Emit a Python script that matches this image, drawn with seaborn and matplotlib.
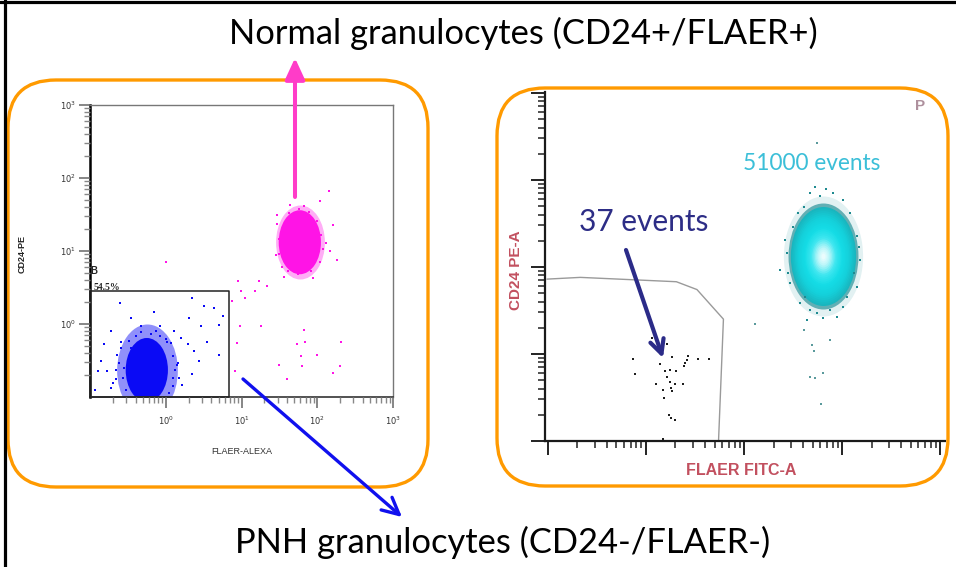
import numpy as np
import pandas as pd
import matplotlib
matplotlib.use("Agg")
import matplotlib.pyplot as plt
import seaborn as sns
from matplotlib.path import Path
from matplotlib.patches import FancyBboxPatch
from matplotlib.colors import LinearSegmentedColormap
from matplotlib.ticker import FixedLocator, FixedFormatter, NullFormatter

# =========================
# data (log10 units)
# =========================
# left plot: PNH cluster (CD24-/FLAER-), scattered events
pnh_logx = [-0.61, -0.46, -0.16, 0.35, 0.50, 0.64, 0.75, 0.70, 0.46, 0.31, -0.72, -0.81,
            -0.86, -0.90, -0.77, -0.94, -0.72, 0.11, 0.20, 0.29, 0.37, 0.44, 0.35, 0.22,
            0.15, -0.07, -0.33, -0.59, -0.64, -0.66, 0.55, 0.02, -0.46, -0.55, 0.09, 0.70,
            -0.59, -0.62, -0.57, -0.53, -0.49, -0.39, -0.20, -0.07, 0.07, 0.09, 0.12, 0.09,
            0.04, -0.66, -0.70, 0.16, -0.33, -0.13, 0.00, 0.17]
pnh_logy = [0.29, 0.08, 0.17, 0.36, 0.24, 0.22, 0.11, -0.01, -0.03, 0.08, -0.10, -0.28,
            -0.51, -0.65, -0.65, -0.90, -0.88, -0.10, -0.19, -0.28, -0.37, -0.51, -0.69, -0.83,
            -0.56, -0.03, -0.03, -0.24, -0.42, -0.76, -0.24, -0.24, -0.33, -0.60, -0.74, -0.42,
            -0.33, -0.53, -0.74, -0.90, -0.23, -0.16, -0.14, -0.16, -0.26, -0.44, -0.63, -0.85,
            -0.95, -0.63, -0.81, -0.53, -0.11, -0.10, -0.21, -0.74]

# left plot: normal cluster (CD24+/FLAER+), scattered events
norm_logx = [0.00, 0.95, 0.87, 0.99, 1.05, 1.18, 1.23, 1.34, 0.98, 1.26, 0.94, 0.92,
             1.49, 1.60, 1.73, 1.82, 1.78, 1.84, 1.80, 2.00, 2.21, 2.30, 2.31, 2.15,
             2.04, 2.21, 2.26, 1.95, 1.56, 1.47, 1.64, 2.17, 1.45,
             1.47, 1.50, 1.49, 1.54, 1.63, 1.76, 1.89, 2.00, 2.05, 2.07, 2.03, 1.92,
             1.74, 1.61, 2.11, 1.83]
norm_logy = [0.85, 0.59, 0.32, 0.45, 0.36, 0.45, 0.59, 0.52, -0.03, -0.03, -0.26, -0.65,
             -0.56, -0.76, -0.28, -0.08, -0.44, -0.24, -0.58, -0.42, -0.67, -0.57, -0.24, 1.82,
             1.68, 1.36, 0.88, 0.63, 0.65, 1.50, 1.63, 1.00, 0.95,
             1.37, 1.16, 0.96, 0.78, 1.52, 1.58, 1.53, 1.41, 1.22, 1.03, 0.85, 0.73,
             0.68, 0.73, 1.11, 1.62]

# dense cores of the two left clusters
core_names = ["PNH", "Normal"]
core_logx = [-0.25, 1.77]
core_logy = [-0.63, 1.12]
core_colors = ["#0A0AF5", "#FF14E6"]

# gate "B" (linear units)
gate_b_x = [0.1, 6.8]
gate_b_y = [0.1, 2.8]
gate_b_label = "54.5%"

left_ticks = [1, 10, 100, 1000]
left_tick_labels = [r"$10^{0}$", r"$10^{1}$", r"$10^{2}$", r"$10^{3}$"]

# right plot: residual PNH events (37 events)
pnh2_logx = [1.87, 1.89, 2.10, 2.14, 2.19, 2.21, 2.24, 2.26, 2.27, 2.30, 2.31, 2.38, 2.39, 2.42,
             2.43, 2.53, 2.64, 2.18, 2.23, 2.26, 2.30, 2.17, 2.06, 2.21, 2.24, 2.40, 2.27, 2.17]
pnh2_logy = [1.94, 1.77, 1.66, 1.89, 1.80, 1.74, 1.68, 1.61, 1.96, 1.66, 1.80, 1.66, 1.86, 1.93,
             1.98, 1.94, 1.94, 1.49, 1.30, 1.26, 1.24, 1.59, 2.18, 2.12, 1.82, 1.90, 1.57, 1.02]

# right plot: normal cluster halo (51000 events)
norm2_logx = [3.67, 3.84, 4.01, 3.61, 4.08, 3.50, 4.15, 3.44, 4.18, 3.37, 3.47, 4.15, 3.57, 4.01,
              3.74, 3.88, 3.64, 3.81, 3.78, 3.55, 4.12, 3.42, 4.05, 3.62, 3.95, 3.72, 3.91, 4.17,
              3.45, 3.67]
norm2_logy = [3.85, 3.89, 3.77, 3.69, 3.62, 3.46, 3.35, 3.16, 3.08, 2.97, 2.81, 2.77, 2.58, 2.54,
              2.47, 2.51, 2.39, 2.41, 3.81, 3.62, 2.93, 3.31, 2.66, 2.66, 2.43, 3.92, 3.85, 3.23,
              2.93, 2.51]
stray2_logx = [3.69, 3.71, 3.67, 3.72, 3.81, 3.79, 3.61, 3.88, 3.74, 3.11]
stray2_logy = [2.10, 2.03, 1.74, 1.72, 1.78, 1.43, 2.28, 2.16, 4.42, 2.35]
core2_logx = [3.81]
core2_logy = [3.12]

# right plot gate polygon
gate_p_logx = [0.99, 1.33, 2.31, 2.52, 2.79, 2.74]
gate_p_logy = [2.86, 2.88, 2.83, 2.74, 2.40, 1.0]

right_major = [10, 100, 1000, 10000, 100000]

# =========================
# figure
# =========================
sns.set_style("white")
plt.rcParams['font.family'] = ['Lato', 'DejaVu Sans']

W, H = 956, 567
fig = plt.figure(figsize=(W / 100, H / 100), dpi=100)
fig.patch.set_facecolor("white")


def ax_rect(l, t, r, b):
    return [l / W, 1 - b / H, (r - l) / W, (b - t) / H]


# ellipse shaped marker for dense cores
circ = Path.unit_circle()
ell = Path(circ.vertices * np.array([0.66, 1.0]), circ.codes)


def px2s(h):
    # marker height in pixels -> scatter size
    return (h * 0.72) ** 2


def minor_ticks(e0, e1):
    # 2..9 x 10^e for each decade
    return [k * 10.0 ** e for e in range(e0, e1) for k in range(2, 10)]


LEFT_RECT = ax_rect(90, 105, 393, 397)

# ---------- left plot ----------
ax1 = fig.add_axes(LEFT_RECT)
ax1.set_xscale("log")
ax1.set_yscale("log")

df_pnh = pd.DataFrame({"x": 10 ** np.array(pnh_logx), "y": 10 ** np.array(pnh_logy)})
df_norm = pd.DataFrame({"x": 10 ** np.array(norm_logx), "y": 10 ** np.array(norm_logy)})
df_core = pd.DataFrame({"x": 10 ** np.array(core_logx), "y": 10 ** np.array(core_logy),
                        "name": core_names})

# core layers: fuzzy halo then solid
sns.scatterplot(data=df_core.iloc[[0]], x="x", y="y", color=core_colors[0], marker=ell,
                s=px2s(92), alpha=0.45, linewidth=0, ax=ax1)
sns.scatterplot(data=df_core.iloc[[1]], x="x", y="y", color=core_colors[1], marker=ell,
                s=px2s(74), alpha=0.35, linewidth=0, ax=ax1)
sns.scatterplot(data=df_core, x="x", y="y", hue="name", palette=core_colors, marker=ell,
                s=px2s(64), linewidth=0, legend=False, ax=ax1)
sns.scatterplot(data=df_pnh, x="x", y="y", color=core_colors[0], marker="s", s=4,
                linewidth=0, ax=ax1)
sns.scatterplot(data=df_norm, x="x", y="y", color=core_colors[1], marker="s", s=4,
                linewidth=0, ax=ax1)

gx = [gate_b_x[0], gate_b_x[1], gate_b_x[1], gate_b_x[0], gate_b_x[0]]
gy = [gate_b_y[0], gate_b_y[0], gate_b_y[1], gate_b_y[1], gate_b_y[0]]
ax1.plot(gx, gy, color="#222222", lw=1.1, clip_on=False, zorder=5)
ax1.text(0.1, 5.4, "B", fontsize=7, fontweight="bold", family="Liberation Sans",
         ha="left", va="center")
ax1.text(0.112, 3.15, gate_b_label, fontsize=7, fontweight="bold", family="Liberation Serif",
         ha="left", va="center")

ax1.set_xlim(0.1, 1000)
ax1.set_ylim(0.1, 1000)
ax1.tick_params(which="both", bottom=False, left=False, labelbottom=False, labelleft=False)
for side in ("top", "right"):
    ax1.spines[side].set_color("#777777")
    ax1.spines[side].set_linewidth(1.0)
ax1.spines["left"].set_color("black")
ax1.spines["left"].set_linewidth(1.8)
ax1.spines["bottom"].set_color("#333333")
ax1.spines["bottom"].set_linewidth(1.2)
ax1.set_xlabel("FLAER-ALEXA", fontsize=6.5, family="Liberation Sans", color="#333333")
ax1.set_ylabel("CD24-PE", fontsize=6.5, family="Liberation Sans", fontweight="bold",
               color="#222222")
ax1.xaxis.set_label_coords(0.5, -0.171)
ax1.yaxis.set_label_coords(-0.208, 0.49)

# separate, empty axes that carries the tick marks and tick labels of the left plot
axt = fig.add_axes(LEFT_RECT, zorder=2)
axt.set_xscale("log")
axt.set_yscale("log")
axt.set_xlim(0.1, 1000)
axt.set_ylim(0.1, 1000)
axt.patch.set_alpha(0)
for sp in axt.spines.values():
    sp.set_visible(False)
for axis in (axt.xaxis, axt.yaxis):
    axis.set_major_locator(FixedLocator(left_ticks))
    axis.set_major_formatter(FixedFormatter(left_tick_labels))
    axis.set_minor_locator(FixedLocator(minor_ticks(-1, 3)))
    axis.set_minor_formatter(NullFormatter())
axt.xaxis.set_ticks_position("bottom")
axt.yaxis.set_ticks_position("left")
axt.tick_params(which="both", direction="out")
axt.tick_params(which="major", length=8, width=1.1, color="#666666",
                labelsize=6, labelcolor="#333333", pad=2)
axt.tick_params(which="minor", length=4.5, width=1.0, color="#888888")
axt.tick_params(axis="x", which="major", pad=5)

# ---------- right plot ----------
ax2 = fig.add_axes(ax_rect(545, 92, 945, 441))
ax2.set_xscale("log")
ax2.set_yscale("log")

df_p2 = pd.DataFrame({"x": 10 ** np.array(pnh2_logx), "y": 10 ** np.array(pnh2_logy)})
df_n2 = pd.DataFrame({"x": 10 ** np.array(norm2_logx), "y": 10 ** np.array(norm2_logy)})
df_s2 = pd.DataFrame({"x": 10 ** np.array(stray2_logx), "y": 10 ** np.array(stray2_logy)})
df_c2 = pd.DataFrame({"x": 10 ** np.array(core2_logx), "y": 10 ** np.array(core2_logy)})

ax2.plot(10 ** np.array(gate_p_logx), 10 ** np.array(gate_p_logy), color="#9a9a9a", lw=1.0)

# core of the normal cluster: dark speckled rim, then a smooth cyan -> white fill
sns.scatterplot(data=df_c2, x="x", y="y", color="#8cc9cc", marker=ell, s=px2s(120),
                alpha=0.25, linewidth=0, ax=ax2)
sns.scatterplot(data=df_c2, x="x", y="y", color="#2a939a", marker=ell, s=px2s(106),
                alpha=0.7, linewidth=0, ax=ax2)
core_cmap = LinearSegmentedColormap.from_list(
    "cyan_core", ["#ffffff", "#b8f6f9", "#3ce6ef", "#14dce6", "#14d0da", "#19b6bf"])
for h in np.linspace(99, 6, 24):
    sns.scatterplot(data=df_c2, x="x", y="y", color=core_cmap(h / 99), marker=ell,
                    s=px2s(h), linewidth=0, ax=ax2)
sns.scatterplot(data=df_n2, x="x", y="y", color="#1e8a90", marker="s", s=3, linewidth=0,
                ax=ax2)
sns.scatterplot(data=df_s2, x="x", y="y", color="#5a9a9c", marker="s", s=3, linewidth=0,
                ax=ax2)
sns.scatterplot(data=df_p2, x="x", y="y", color="#1e1e1e", marker="s", s=4.5, linewidth=0,
                ax=ax2)

ax2.set_xlim(10 ** 0.97, 10 ** 5.05)
ax2.set_ylim(10 ** 1.0, 10 ** 5.01)
sns.despine(ax=ax2)
for axis in (ax2.xaxis, ax2.yaxis):
    axis.set_major_locator(FixedLocator(right_major))
    axis.set_major_formatter(NullFormatter())
    axis.set_minor_locator(FixedLocator(minor_ticks(1, 5)))
    axis.set_minor_formatter(NullFormatter())
ax2.xaxis.set_ticks_position("bottom")
ax2.yaxis.set_ticks_position("left")
ax2.tick_params(which="both", direction="out")
ax2.tick_params(which="major", length=10, width=1.4, color="#222222")
ax2.tick_params(which="minor", length=5, width=1.2, color="#333333")
ax2.spines["left"].set_linewidth(1.6)
ax2.spines["bottom"].set_linewidth(1.6)
ax2.spines["left"].set_color("#1a1a1a")
ax2.spines["bottom"].set_color("#1a1a1a")
ax2.set_xlabel("FLAER FITC-A", fontsize=11.5, fontweight="bold", family="Liberation Sans",
               color="#C2505F")
ax2.set_ylabel("CD24 PE-A", fontsize=11, fontweight="bold", family="Liberation Sans",
               color="#C2505F")
ax2.xaxis.set_label_coords(0.49, -0.063)
ax2.yaxis.set_label_coords(-0.055, 0.49)

# ---------- overlay: frame, boxes, arrows, titles ----------
ov = fig.add_axes([0, 0, 1, 1], zorder=10)
ov.set_xlim(0, W)
ov.set_ylim(H, 0)
ov.axis("off")
ov.patch.set_alpha(0)

ov.plot([5, 5], [0, H], color="black", lw=2.3)
ov.plot([0, W], [1.5, 1.5], color="black", lw=2.3)

ov.add_patch(FancyBboxPatch((8, 80), 420, 407, boxstyle="round,pad=0,rounding_size=48",
                            fc="none", ec="#FF9A00", lw=2.4))
ov.add_patch(FancyBboxPatch((497, 88), 451, 398, boxstyle="round,pad=0,rounding_size=48",
                            fc="none", ec="#FF9A00", lw=2.4))

ov.text(915, 106, "P", fontsize=11, fontweight="bold", color="#9a7585", alpha=0.8,
        family="Liberation Sans", ha="left", va="center")

ov.annotate("", xy=(295, 58), xytext=(295, 197),
            arrowprops=dict(arrowstyle="-|>,head_length=0.65,head_width=0.3",
                            mutation_scale=20, lw=2.9, color="#FF3CC8",
                            shrinkA=0, shrinkB=0))
ov.annotate("", xy=(402, 517), xytext=(243, 379),
            arrowprops=dict(arrowstyle="->,head_length=0.6,head_width=0.3",
                            mutation_scale=20, lw=2.4, color="#1010EE",
                            shrinkA=0, shrinkB=0))
ov.annotate("", xy=(663, 358), xytext=(626, 250),
            arrowprops=dict(arrowstyle="->,head_length=0.5,head_width=0.25",
                            mutation_scale=20, lw=3.0, color="#2B2B88",
                            shrinkA=0, shrinkB=0))

ov.text(812, 163, "51000 events", fontsize=16.3, color="#3BBFD8", ha="center", va="center")
ov.text(644, 222, "37 events", fontsize=21.5, color="#2D2D86", ha="center", va="center")

ov.text(523, 33, "Normal granulocytes (CD24+/FLAER+)", fontsize=24.8, color="black",
        ha="center", va="center")
ov.text(503, 542, "PNH granulocytes (CD24-/FLAER-)", fontsize=24.8, color="black",
        ha="center", va="center")

fig.savefig("out.png", dpi=100)
plt.close()
